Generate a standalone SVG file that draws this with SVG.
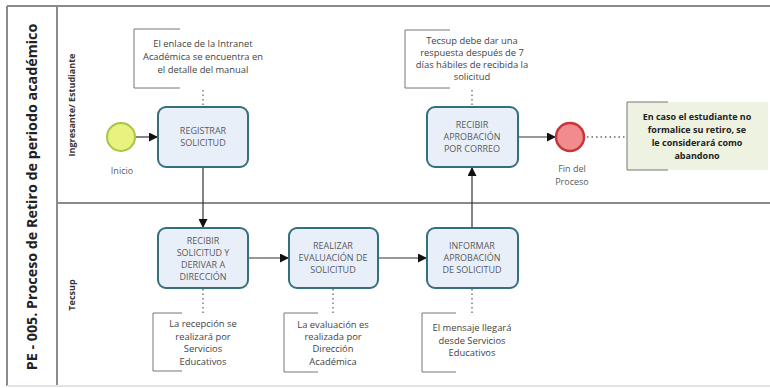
<svg xmlns="http://www.w3.org/2000/svg" width="770" height="388" viewBox="0 0 770 388">
<style>
.frame{fill:none;stroke:#8a8a8a;stroke-width:2}
.task{fill:#e9eff9;stroke:#356f7c;stroke-width:2}
.tt{font-family:"Open Sans","DejaVu Sans",sans-serif;font-size:9px;fill:#5a5a5a;text-anchor:middle}
.ann{font-family:"Open Sans","DejaVu Sans",sans-serif;font-size:9.4px;fill:#444;text-anchor:middle}
.br{fill:none;stroke:#777;stroke-width:1}
.dot{fill:none;stroke:#666;stroke-width:1.3;stroke-dasharray:1.5 3}
.flow{fill:none;stroke:#333;stroke-width:1.2}
.lane{font-family:"Open Sans","DejaVu Sans",sans-serif;font-size:9px;font-weight:bold;fill:#333;text-anchor:middle}
</style>
<defs>
<marker id="arr" viewBox="0 0 10 10" refX="10" refY="5" markerWidth="9" markerHeight="9" markerUnits="userSpaceOnUse" orient="auto">
<path d="M0,0 L10,5 L0,10 z" fill="#111"/>
</marker>
</defs>
<rect width="770" height="388" fill="#fff"/>
<g id="pool">
<line x1="7" y1="6" x2="770" y2="6" class="frame"/>
<line x1="7" y1="6" x2="7" y2="386" class="frame" stroke="#aaa"/>
<line x1="57" y1="6" x2="57" y2="386" class="frame"/>
<line x1="7" y1="386" x2="770" y2="386" stroke="#e4e4e4" stroke-width="2"/>
<line x1="57" y1="203" x2="770" y2="203" class="frame"/>
<text transform="translate(37,197) rotate(-90)" font-family="'Open Sans','DejaVu Sans',sans-serif" font-size="14.3" font-weight="bold" fill="#222" text-anchor="middle">PE - 005. Proceso de Retiro de periodo académico</text>
<text class="lane" transform="translate(75,105) rotate(-90)">Ingresante/ Estudiante</text>
<text class="lane" transform="translate(75,295) rotate(-90)">Tecsup</text>
</g>
<g id="connectors">
<line x1="136" y1="137" x2="158" y2="137" class="flow" marker-end="url(#arr)"/>
<line x1="203" y1="167" x2="203" y2="228" class="flow" marker-end="url(#arr)"/>
<line x1="248" y1="258" x2="289" y2="258" class="flow" marker-end="url(#arr)"/>
<line x1="378" y1="258" x2="427" y2="258" class="flow" marker-end="url(#arr)"/>
<line x1="472" y1="228" x2="472" y2="167" class="flow" marker-end="url(#arr)"/>
<line x1="518" y1="137" x2="556" y2="137" class="flow" marker-end="url(#arr)"/>
<line x1="203" y1="90" x2="203" y2="107" class="dot"/>
<line x1="472" y1="90" x2="472" y2="107" class="dot"/>
<line x1="203" y1="289" x2="203" y2="313" class="dot"/>
<line x1="333" y1="289" x2="333" y2="313" class="dot"/>
<line x1="472" y1="289" x2="472" y2="313" class="dot"/>
<line x1="587" y1="137" x2="626" y2="137" class="dot"/>
</g>
<g id="start">
<circle cx="121" cy="137" r="14" fill="#e8f27e" stroke="#a8c440" stroke-width="2"/>
<text class="tt" x="122" y="174">Inicio</text>
</g>
<g id="registrar">
<rect x="158" y="107" width="90" height="60" rx="8" class="task"/>
<text class="tt" x="203" y="134">REGISTRAR</text>
<text class="tt" x="203" y="146">SOLICITUD</text>
</g>
<g id="note1">
<path d="M180,29 H134 V88 H180" class="br"/>
<text class="ann" x="203" y="47">El enlace de la Intranet</text>
<text class="ann" x="203" y="60">Académica se encuentra en</text>
<text class="ann" x="203" y="73">el detalle del manual</text>
</g>
<g id="recibir">
<rect x="158" y="228" width="90" height="60" rx="8" class="task"/>
<text class="tt" x="203" y="244">RECIBIR</text>
<text class="tt" x="203" y="256">SOLICITUD Y</text>
<text class="tt" x="203" y="268">DERIVAR A</text>
<text class="tt" x="203" y="280">DIRECCIÓN</text>
</g>
<g id="note2">
<path d="M182,313 H153 V371 H182" class="br"/>
<text class="ann" x="203" y="327">La recepción se</text>
<text class="ann" x="203" y="340">realizará por</text>
<text class="ann" x="203" y="352">Servicios</text>
<text class="ann" x="203" y="365">Educativos</text>
</g>
<g id="evaluar">
<rect x="289" y="228" width="89" height="60" rx="8" class="task"/>
<text class="tt" x="333" y="249">REALIZAR</text>
<text class="tt" x="333" y="261">EVALUACIÓN DE</text>
<text class="tt" x="333" y="273">SOLICITUD</text>
</g>
<g id="note3">
<path d="M318,313 H284 V372 H318" class="br"/>
<text class="ann" x="333" y="328">La evaluación es</text>
<text class="ann" x="333" y="340">realizada por</text>
<text class="ann" x="333" y="352">Dirección</text>
<text class="ann" x="333" y="365">Académica</text>
</g>
<g id="informar">
<rect x="427" y="228" width="91" height="60" rx="8" class="task"/>
<text class="tt" x="472" y="249">INFORMAR</text>
<text class="tt" x="472" y="261">APROBACIÓN</text>
<text class="tt" x="472" y="273">DE SOLICITUD</text>
</g>
<g id="note4">
<path d="M456,313 H422 V372 H456" class="br"/>
<text class="ann" x="472" y="331">El mensaje llegará</text>
<text class="ann" x="472" y="344">desde Servicios</text>
<text class="ann" x="472" y="356">Educativos</text>
</g>
<g id="recibirAprob">
<rect x="427" y="107" width="91" height="60" rx="8" class="task"/>
<text class="tt" x="472" y="128">RECIBIR</text>
<text class="tt" x="472" y="140">APROBACIÓN</text>
<text class="tt" x="472" y="152">POR CORREO</text>
</g>
<g id="note5">
<path d="M450,30 H405 V88 H450" class="br"/>
<text class="ann" x="472" y="44">Tecsup debe dar una</text>
<text class="ann" x="472" y="56">respuesta después de 7</text>
<text class="ann" x="472" y="68">días hábiles de recibida la</text>
<text class="ann" x="472" y="80">solicitud</text>
</g>
<g id="end">
<circle cx="570" cy="137" r="14" fill="#f08c8e" stroke="#c9363a" stroke-width="2.5"/>
<text class="tt" x="572" y="172">Fin del</text>
<text class="tt" x="572" y="185">Proceso</text>
</g>
<g id="note6">
<rect x="627" y="102" width="141" height="68" fill="#eef2e1"/>
<path d="M668,102 H627 V170 H668" class="br" stroke="#bbb"/>
<g font-family="'Open Sans','DejaVu Sans',sans-serif" font-size="9" font-weight="bold" fill="#222" text-anchor="middle">
<text x="697" y="120">En caso el estudiante no</text>
<text x="697" y="133">formalice su retiro, se</text>
<text x="697" y="146">le considerará como</text>
<text x="697" y="159">abandono</text>
</g>
</g>
</svg>
